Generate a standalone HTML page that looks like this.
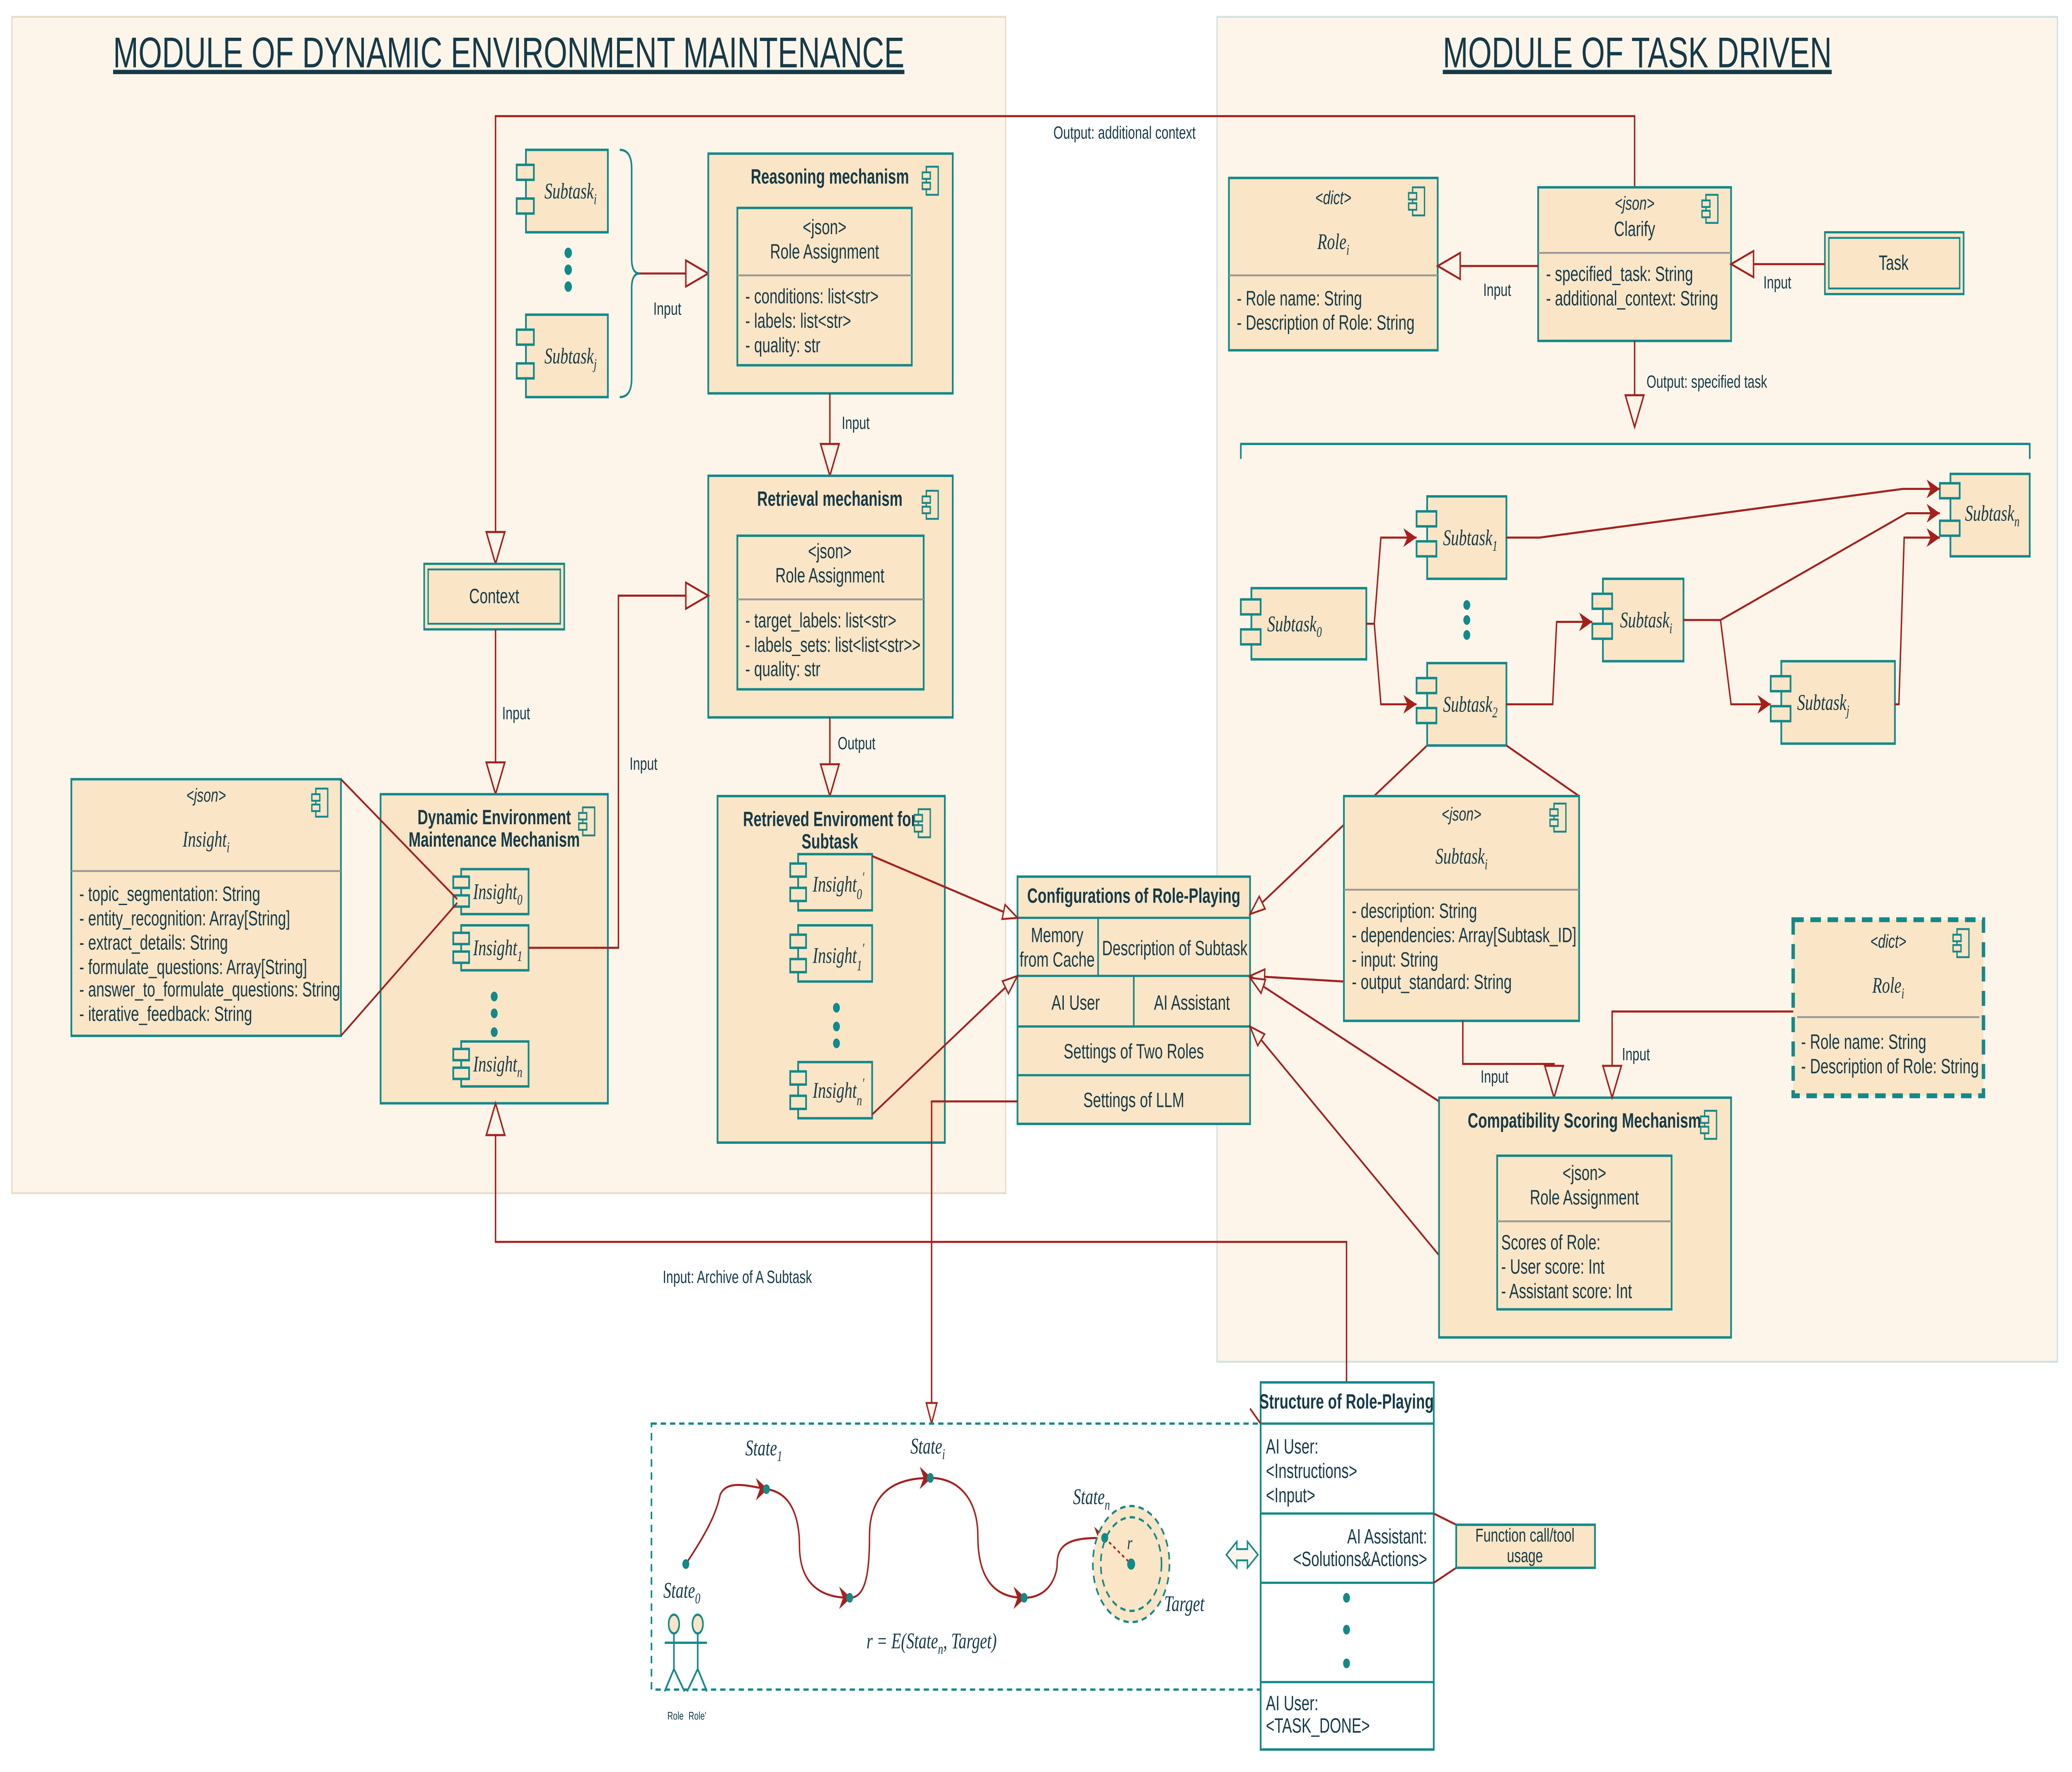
<!DOCTYPE html>
<html><head><meta charset="utf-8"><style>
html,body{margin:0;padding:0;background:#fff;width:100vw;height:100vh;overflow:hidden;}
svg{display:block;width:100vw;height:100vh;}
text{font-family:"Liberation Sans",sans-serif;fill:#163a48;font-size:11px;}
.b{font-weight:bold;}
.m{font-family:"Liberation Serif",serif;font-style:italic;font-size:12px;}
.c{text-anchor:middle;}
.r{text-anchor:end;}
.box{fill:#fae5c6;stroke:#12898a;stroke-width:1.3;}
.ln{fill:none;stroke:#a5201c;stroke-width:1.1;}
.tl{fill:none;stroke:#12898a;stroke-width:1.2;}
.div{stroke:#999;stroke-width:1;}
.dot{fill:#12898a;}
</style></head><body>
<svg viewBox="0 0 1568 946" preserveAspectRatio="none" xmlns="http://www.w3.org/2000/svg">
<defs>
<marker id="big" markerUnits="userSpaceOnUse" markerWidth="20" markerHeight="18" refX="18" refY="8" orient="auto"><path d="M1,1 L18,8 L1,15 Z" fill="#fdf5ea" stroke="#a5201c" stroke-width="1.1"/></marker>
<marker id="sm" markerUnits="userSpaceOnUse" markerWidth="14" markerHeight="10" refX="12" refY="5" orient="auto"><path d="M1,1 L12,5 L1,9 Z" fill="#fdf5ea" stroke="#a5201c" stroke-width="1"/></marker>
<marker id="fa" markerUnits="userSpaceOnUse" markerWidth="12" markerHeight="10" refX="10" refY="5" orient="auto"><path d="M0,0 L10,5 L0,10 L3,5 Z" fill="#a5201c"/></marker>
<g id="ci"><rect x="3" y="0" width="9" height="15" fill="none" stroke="#12898a" stroke-width="1"/><rect x="0" y="3" width="6" height="3.5" fill="#fae5c6" stroke="#12898a" stroke-width="1"/><rect x="0" y="8.5" width="6" height="3.5" fill="#fae5c6" stroke="#12898a" stroke-width="1"/></g>
</defs>
<rect width="1568" height="946" fill="#fff"/>
<rect x="9" y="9" width="752" height="628" fill="#fdf5ea" stroke="#e9dcc8" stroke-width="1"/>
<rect x="921" y="9" width="636" height="718" fill="#fdf5ea" stroke="#cfe3e0" stroke-width="1"/>
<text x="385" y="36" class="c" style="font-size:23px;text-decoration:underline">MODULE OF DYNAMIC ENVIRONMENT MAINTENANCE</text>
<text x="1239" y="36" class="c" style="font-size:23px;text-decoration:underline">MODULE OF TASK DRIVEN</text>

<path class="ln" d="M1237,100 L1237,62 L375,62 L375,301" marker-end="url(#big)"/>
<text x="851" y="74" class="c" style="font-size:9.5px">Output: additional context</text>

<rect class="box" x="398" y="80" width="62" height="44"/>
<rect class="box" x="391" y="88" width="13" height="8"/><rect class="box" x="391" y="106" width="13" height="8"/>
<text x="412" y="106" class="m">Subtask<tspan font-size="8" dy="3">i</tspan></text>
<circle class="dot" cx="430" cy="135" r="2.8"/><circle class="dot" cx="430" cy="144" r="2.8"/><circle class="dot" cx="430" cy="153" r="2.8"/>
<rect class="box" x="398" y="168" width="62" height="44"/>
<rect class="box" x="391" y="176" width="13" height="8"/><rect class="box" x="391" y="194" width="13" height="8"/>
<text x="412" y="194" class="m">Subtask<tspan font-size="8" dy="3">j</tspan></text>
<path class="tl" d="M469,80 Q478,80 478,90 L478,138 Q478,146 484,146 Q478,146 478,154 L478,202 Q478,212 469,212"/>
<path class="ln" d="M484,146 L536,146" marker-end="url(#big)"/>
<text x="505" y="168" class="c" style="font-size:9.5px">Input</text>

<rect class="box" x="536" y="82" width="185" height="128"/>
<text x="628" y="98" class="c b">Reasoning mechanism</text>
<use href="#ci" x="698" y="89"/>
<rect class="box" x="558" y="111" width="132" height="84"/>
<text x="624" y="125" class="c">&lt;json&gt;</text><text x="624" y="138" class="c">Role Assignment</text>
<line class="div" x1="558" y1="147" x2="690" y2="147"/>
<text x="564" y="162">- conditions: list&lt;str&gt;</text><text x="564" y="175">- labels: list&lt;str&gt;</text><text x="564" y="188">- quality: str</text>
<path class="ln" d="M628,210 L628,254" marker-end="url(#big)"/>
<text x="637" y="229" style="font-size:9.5px">Input</text>

<rect class="box" x="536" y="254" width="185" height="129"/>
<text x="628" y="270" class="c b">Retrieval mechanism</text>
<use href="#ci" x="698" y="262"/>
<rect class="box" x="558" y="286" width="141" height="82"/>
<text x="628" y="298" class="c">&lt;json&gt;</text><text x="628" y="311" class="c">Role Assignment</text>
<line class="div" x1="558" y1="320" x2="699" y2="320"/>
<text x="564" y="335">- target_labels: list&lt;str&gt;</text><text x="564" y="348">- labels_sets: list&lt;list&lt;str&gt;&gt;</text><text x="564" y="361">- quality: str</text>
<path class="ln" d="M628,383 L628,425" marker-end="url(#big)"/>
<text x="634" y="400" style="font-size:9.5px">Output</text>

<rect class="box" x="543" y="425" width="172" height="185"/>
<text x="628" y="441" class="c b">Retrieved Enviroment for</text>
<text x="628" y="453" class="c b">Subtask</text>
<use href="#ci" x="692" y="432"/>
<rect class="box" x="604" y="456" width="56" height="30"/><rect class="box" x="598" y="461" width="12" height="7"/><rect class="box" x="598" y="474" width="12" height="7"/>
<text x="615" y="476" class="m">Insight<tspan font-size="8" dy="4">0</tspan><tspan font-size="8" dy="-9">′</tspan></text>
<rect class="box" x="604" y="494" width="56" height="30"/><rect class="box" x="598" y="499" width="12" height="7"/><rect class="box" x="598" y="512" width="12" height="7"/>
<text x="615" y="514" class="m">Insight<tspan font-size="8" dy="4">1</tspan><tspan font-size="8" dy="-9">′</tspan></text>
<circle class="dot" cx="633" cy="538" r="2.6"/><circle class="dot" cx="633" cy="548" r="2.6"/><circle class="dot" cx="633" cy="557" r="2.6"/>
<rect class="box" x="604" y="567" width="56" height="30"/><rect class="box" x="598" y="572" width="12" height="7"/><rect class="box" x="598" y="585" width="12" height="7"/>
<text x="615" y="586" class="m">Insight<tspan font-size="8" dy="4">n</tspan><tspan font-size="8" dy="-9">′</tspan></text>

<rect x="321" y="301" width="106" height="35" fill="#fae5c6" stroke="#12898a" stroke-width="1.2"/>
<rect x="324" y="304" width="100" height="29" fill="none" stroke="#12898a" stroke-width="1"/>
<text x="374" y="322" class="c">Context</text>
<path class="ln" d="M375,336 L375,424" marker-end="url(#big)"/>
<text x="380" y="384" style="font-size:9.5px">Input</text>

<rect class="box" x="288" y="424" width="172" height="165"/>
<text x="374" y="440" class="c b">Dynamic Environment</text>
<text x="374" y="452" class="c b">Maintenance Mechanism</text>
<use href="#ci" x="438" y="431"/>
<rect class="box" x="349" y="464" width="51" height="24"/><rect class="box" x="343" y="468" width="12" height="6"/><rect class="box" x="343" y="478" width="12" height="6"/>
<text x="358" y="480" class="m">Insight<tspan font-size="8" dy="3">0</tspan></text>
<rect class="box" x="349" y="494" width="51" height="24"/><rect class="box" x="343" y="498" width="12" height="6"/><rect class="box" x="343" y="508" width="12" height="6"/>
<text x="358" y="510" class="m">Insight<tspan font-size="8" dy="3">1</tspan></text>
<circle class="dot" cx="374" cy="532" r="2.6"/><circle class="dot" cx="374" cy="541" r="2.6"/><circle class="dot" cx="374" cy="551" r="2.6"/>
<rect class="box" x="349" y="556" width="51" height="24"/><rect class="box" x="343" y="560" width="12" height="6"/><rect class="box" x="343" y="570" width="12" height="6"/>
<text x="358" y="572" class="m">Insight<tspan font-size="8" dy="3">n</tspan></text>
<path class="ln" d="M400,506 L468,506 L468,318 L536,318" marker-end="url(#big)"/>
<text x="487" y="411" class="c" style="font-size:9.5px">Input</text>

<rect class="box" x="54" y="416" width="204" height="137"/>
<text x="156" y="428" class="c" style="font-style:italic;font-size:10px">&lt;json&gt;</text>
<text x="156" y="452" class="c m">Insight<tspan font-size="8" dy="3">i</tspan></text>
<use href="#ci" x="236" y="421"/>
<line class="div" x1="54" y1="465" x2="258" y2="465"/>
<text x="60" y="481">- topic_segmentation: String</text><text x="60" y="494">- entity_recognition: Array[String]</text><text x="60" y="507">- extract_details: String</text><text x="60" y="520">- formulate_questions: Array[String]</text><text x="60" y="532">- answer_to_formulate_questions: String</text><text x="60" y="545">- iterative_feedback: String</text>
<path class="ln" d="M258,416 L346,480 M258,553 L346,482"/>

<path class="ln" d="M1019,738 L1019,663 L375,663 L375,589" marker-end="url(#big)"/>
<text x="558" y="685" class="c" style="font-size:9.5px">Input: Archive of A Subtask</text>

<rect class="box" x="770" y="468" width="176" height="132"/>
<line class="tl" x1="770" y1="490" x2="946" y2="490"/>
<line class="tl" x1="770" y1="521" x2="946" y2="521"/>
<line class="tl" x1="770" y1="548" x2="946" y2="548"/>
<line class="tl" x1="770" y1="574" x2="946" y2="574"/>
<line class="tl" x1="831" y1="490" x2="831" y2="521"/>
<line class="tl" x1="858" y1="521" x2="858" y2="548"/>
<text x="858" y="482" class="c b">Configurations of Role-Playing</text>
<text x="800" y="503" class="c">Memory</text><text x="800" y="516" class="c">from Cache</text>
<text x="889" y="510" class="c">Description of Subtask</text>
<text x="814" y="539" class="c">AI User</text><text x="902" y="539" class="c">AI Assistant</text>
<text x="858" y="565" class="c">Settings of Two Roles</text>
<text x="858" y="591" class="c">Settings of LLM</text>
<path class="ln" d="M660,457 L770,490" marker-end="url(#sm)"/>
<path class="ln" d="M660,595 L770,521" marker-end="url(#sm)"/>
<path class="ln" d="M770,588 L705,588 L705,760" marker-end="url(#sm)"/>
<path class="ln" d="M1080,398 L946,488" marker-end="url(#sm)"/>
<path class="ln" d="M1017,524 L946,521" marker-end="url(#sm)"/>
<path class="ln" d="M1089,588 L946,522" marker-end="url(#sm)"/>
<path class="ln" d="M1124,700 L946,548" marker-end="url(#sm)"/>

<rect class="box" x="930" y="95" width="158" height="92"/>
<text x="1009" y="109" class="c" style="font-style:italic;font-size:10px">&lt;dict&gt;</text>
<text x="1009" y="133" class="c m">Role<tspan font-size="8" dy="3">i</tspan></text>
<use href="#ci" x="1066" y="100"/>
<line class="div" x1="930" y1="147" x2="1088" y2="147"/>
<text x="936" y="163">- Role name: String</text><text x="936" y="176">- Description of Role: String</text>

<rect class="box" x="1164" y="100" width="146" height="82"/>
<text x="1237" y="112" class="c" style="font-style:italic;font-size:10px">&lt;json&gt;</text>
<text x="1237" y="126" class="c">Clarify</text>
<use href="#ci" x="1288" y="104"/>
<line class="div" x1="1164" y1="135" x2="1310" y2="135"/>
<text x="1170" y="150">- specified_task: String</text><text x="1170" y="163">- additional_context: String</text>

<rect x="1381" y="124" width="105" height="33" fill="#fae5c6" stroke="#12898a" stroke-width="1.2"/>
<rect x="1384" y="127" width="99" height="27" fill="none" stroke="#12898a" stroke-width="1"/>
<text x="1433" y="144" class="c">Task</text>
<path class="ln" d="M1381,141 L1310,141" marker-end="url(#big)"/>
<text x="1345" y="154" class="c" style="font-size:9.5px">Input</text>
<path class="ln" d="M1164,142 L1088,142" marker-end="url(#big)"/>
<text x="1133" y="158" class="c" style="font-size:9.5px">Input</text>
<path class="ln" d="M1237,182 L1237,228" marker-end="url(#big)"/>
<text x="1246" y="207" style="font-size:9.5px">Output: specified task</text>
<path class="tl" d="M939,245 L939,237 L1536,237 L1536,245"/>

<g>
<rect class="box" x="947" y="314" width="87" height="38"/><rect class="box" x="939" y="320" width="15" height="8"/><rect class="box" x="939" y="336" width="15" height="8"/>
<text x="959" y="337" class="m">Subtask<tspan font-size="8" dy="3">0</tspan></text>
<rect class="box" x="1080" y="265" width="60" height="44"/><rect class="box" x="1072" y="273" width="15" height="8"/><rect class="box" x="1072" y="289" width="15" height="8"/>
<text x="1092" y="291" class="m">Subtask<tspan font-size="8" dy="3">1</tspan></text>
<circle class="dot" cx="1110" cy="323" r="2.6"/><circle class="dot" cx="1110" cy="331" r="2.6"/><circle class="dot" cx="1110" cy="339" r="2.6"/>
<rect class="box" x="1080" y="354" width="60" height="44"/><rect class="box" x="1072" y="362" width="15" height="8"/><rect class="box" x="1072" y="378" width="15" height="8"/>
<text x="1092" y="380" class="m">Subtask<tspan font-size="8" dy="3">2</tspan></text>
<rect class="box" x="1213" y="309" width="61" height="44"/><rect class="box" x="1205" y="317" width="15" height="8"/><rect class="box" x="1205" y="333" width="15" height="8"/>
<text x="1226" y="335" class="m">Subtask<tspan font-size="8" dy="3">i</tspan></text>
<rect class="box" x="1348" y="353" width="86" height="44"/><rect class="box" x="1340" y="361" width="15" height="8"/><rect class="box" x="1340" y="377" width="15" height="8"/>
<text x="1360" y="379" class="m">Subtask<tspan font-size="8" dy="3">j</tspan></text>
<rect class="box" x="1476" y="253" width="60" height="44"/><rect class="box" x="1468" y="258" width="15" height="8"/><rect class="box" x="1468" y="278" width="15" height="8"/>
<text x="1487" y="278" class="m">Subtask<tspan font-size="8" dy="3">n</tspan></text>
<path class="ln" d="M1034,333 L1040,333 L1045,287 L1072,287" marker-end="url(#fa)"/>
<path class="ln" d="M1040,333 L1045,376 L1072,376" marker-end="url(#fa)"/>
<path class="ln" d="M1140,287 L1165,287 L1440,261 L1468,261" marker-end="url(#fa)"/>
<path class="ln" d="M1140,376 L1175,376 L1178,332 L1205,332" marker-end="url(#fa)"/>
<path class="ln" d="M1274,331 L1302,331 L1443,274 L1468,274" marker-end="url(#fa)"/>
<path class="ln" d="M1302,331 L1310,376 L1340,376" marker-end="url(#fa)"/>
<path class="ln" d="M1434,376 L1437,376 L1441,287 L1468,287" marker-end="url(#fa)"/>
<path class="ln" d="M1140,398 L1195,425"/>
</g>

<rect class="box" x="1017" y="425" width="178" height="120"/>
<text x="1106" y="438" class="c" style="font-style:italic;font-size:10px">&lt;json&gt;</text>
<text x="1106" y="461" class="c m">Subtask<tspan font-size="8" dy="3">i</tspan></text>
<use href="#ci" x="1173" y="429"/>
<line class="div" x1="1017" y1="475" x2="1195" y2="475"/>
<text x="1023" y="490">- description: String</text><text x="1023" y="503">- dependencies: Array[Subtask_ID]</text><text x="1023" y="516">- input: String</text><text x="1023" y="528">- output_standard: String</text>
<path class="ln" d="M1107,545 L1107,568 L1176,568 L1176,586" marker-end="url(#big)"/>
<text x="1131" y="578" class="c" style="font-size:9.5px">Input</text>

<rect class="box" x="1089" y="586" width="221" height="128"/>
<text x="1199" y="602" class="c b">Compatibility Scoring Mechanism</text>
<use href="#ci" x="1287" y="593"/>
<rect class="box" x="1133" y="617" width="132" height="82"/>
<text x="1199" y="630" class="c">&lt;json&gt;</text><text x="1199" y="643" class="c">Role Assignment</text>
<line class="div" x1="1133" y1="652" x2="1265" y2="652"/>
<text x="1136" y="667">Scores of Role:</text><text x="1136" y="680"> - User score: Int</text><text x="1136" y="693"> - Assistant score: Int</text>

<rect x="1357" y="491" width="144" height="94" fill="#fae5c6" stroke="#12898a" stroke-width="2.6" stroke-dasharray="8,5"/>
<text x="1429" y="506" class="c" style="font-style:italic;font-size:10px">&lt;dict&gt;</text>
<text x="1429" y="530" class="c m">Role<tspan font-size="8" dy="3">i</tspan></text>
<use href="#ci" x="1478" y="496"/>
<line class="div" x1="1360" y1="543" x2="1498" y2="543"/>
<text x="1363" y="560">- Role name: String</text><text x="1363" y="573">- Description of Role: String</text>
<path class="ln" d="M1357,540 L1220,540 L1220,586" marker-end="url(#big)"/>
<text x="1238" y="566" class="c" style="font-size:9.5px">Input</text>

<rect x="493" y="760" width="461" height="142" fill="#fff" stroke="#12898a" stroke-width="1.2" stroke-dasharray="4,3"/>
<path class="ln" d="M519,835 C535,818 542,808 545,798 C550,790 565,793 580,795 C602,797 605,815 605,825 C605,845 620,853 643,853 C655,853 658,840 658,820 C658,795 680,789 704,789 C725,789 740,800 740,820 C740,845 755,853 775,853 C795,853 800,840 800,835 C800,822 815,821 836,821"/>
<path d="M572,789 L581,795 L572,801 L575,795Z M635,847 L644,853 L635,859 L638,853Z M696,783 L705,789 L696,795 L699,789Z M767,847 L776,853 L767,859 L770,853Z M828,815 L837,821 L828,827 L831,821Z" fill="#a5201c"/>
<ellipse cx="856" cy="835" rx="29" ry="31" fill="#fae5c6" stroke="#12898a" stroke-width="1.2" stroke-dasharray="4,3"/>
<ellipse cx="856" cy="835" rx="23" ry="25" fill="none" stroke="#12898a" stroke-width="1.2" stroke-dasharray="4,3"/>
<line x1="836" y1="821" x2="856" y2="835" stroke="#a5201c" stroke-width="1" stroke-dasharray="2,2"/>
<circle class="dot" cx="519" cy="835" r="2.6"/><circle class="dot" cx="580" cy="795" r="2.6"/><circle class="dot" cx="643" cy="853" r="2.6"/><circle class="dot" cx="704" cy="789" r="2.6"/><circle class="dot" cx="775" cy="853" r="2.6"/><circle class="dot" cx="836" cy="821" r="2.6"/><circle class="dot" cx="856" cy="835" r="3"/>
<text x="853" y="827" class="m" style="font-size:10px">r</text>
<text x="564" y="777" class="m">State<tspan font-size="8" dy="3">1</tspan></text>
<text x="689" y="776" class="m">State<tspan font-size="8" dy="3">i</tspan></text>
<text x="812" y="803" class="m">State<tspan font-size="8" dy="3">n</tspan></text>
<text x="502" y="853" class="m">State<tspan font-size="8" dy="3">0</tspan></text>
<text x="881" y="860" class="m">Target</text>
<text x="705" y="880" class="c m">r = E(State<tspan font-size="8" dy="3">n</tspan><tspan dy="-3">, Target)</tspan></text>
<g class="tl" stroke-width="1">
<ellipse cx="510" cy="867" rx="4" ry="5" fill="#fae5c6"/><ellipse cx="528" cy="867" rx="4" ry="5" fill="#fae5c6"/>
<line x1="503" y1="877" x2="535" y2="877"/>
<path d="M510,872 L510,891 L503,903 M510,891 L518,903 M528,872 L528,891 L520,903 M528,891 L535,903" fill="none"/>
</g>
<text x="505" y="918" style="font-size:6px">Role</text><text x="521" y="918" style="font-size:6px">Role'</text>

<path d="M928,830 L936,823 L936,827 L944,827 L944,823 L952,830 L944,837 L944,833 L936,833 L936,837 Z" fill="#fdf5ea" stroke="#12898a" stroke-width="1"/>

<rect x="954" y="738" width="131" height="196" fill="#fff" stroke="#12898a" stroke-width="1.3"/>
<line class="tl" x1="954" y1="760" x2="1085" y2="760"/>
<line class="tl" x1="954" y1="808" x2="1085" y2="808"/>
<line class="tl" x1="954" y1="845" x2="1085" y2="845"/>
<line class="tl" x1="954" y1="898" x2="1085" y2="898"/>
<text x="1019" y="752" class="c b">Structure of Role-Playing</text>
<text x="958" y="776">AI User:</text><text x="958" y="789">&lt;Instructions&gt;</text><text x="958" y="802">&lt;Input&gt;</text>
<text x="1080" y="824" class="r">AI Assistant:</text><text x="1080" y="836" class="r">&lt;Solutions&amp;Actions&gt;</text>
<circle class="dot" cx="1019" cy="853" r="2.6"/><circle class="dot" cx="1019" cy="870" r="2.6"/><circle class="dot" cx="1019" cy="888" r="2.6"/>
<text x="958" y="913">AI User:</text><text x="958" y="925">&lt;TASK_DONE&gt;</text>
<path class="ln" d="M1085,808 L1102,814 M1085,845 L1102,837 M946,752 L954,760"/>
<rect class="box" x="1102" y="814" width="105" height="23"/>
<text x="1154" y="823" class="c" style="font-size:10px">Function call/tool</text>
<text x="1154" y="834" class="c" style="font-size:10px">usage</text>
</svg>
</body></html>
